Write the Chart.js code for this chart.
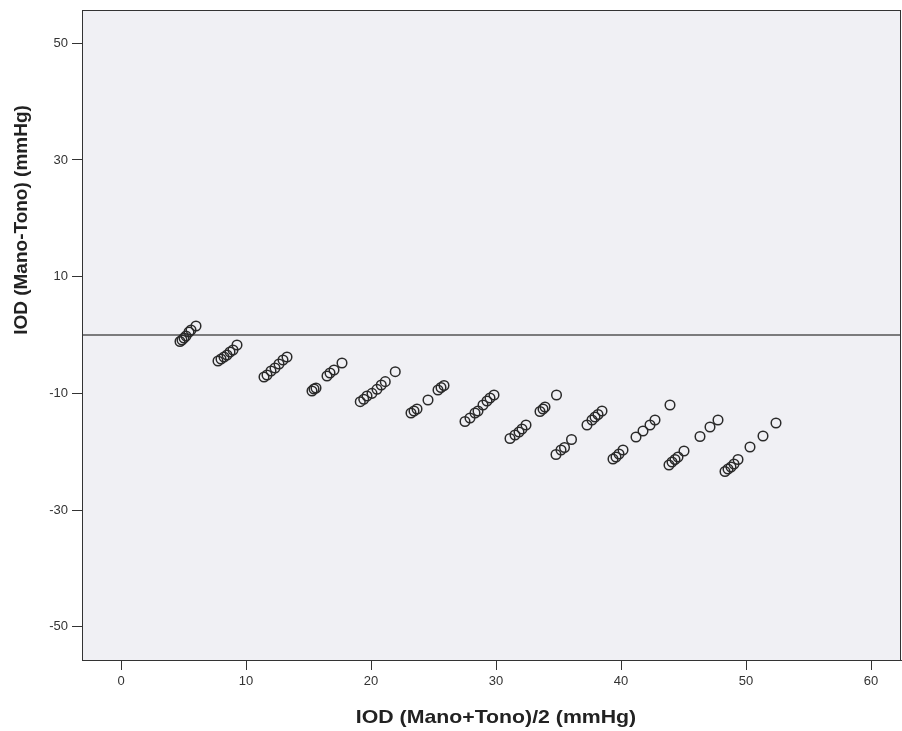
<!DOCTYPE html>
<html>
<head>
<meta charset="utf-8">
<script src="https://cdn.jsdelivr.net/npm/chart.js@4/dist/chart.umd.min.js"></script>
<style>
  html, body { margin: 0; padding: 0; background: #fff; }
  #wrap { width: 902px; height: 731px; }
</style>
</head>
<body>
<div id="wrap"><canvas id="plot" width="902" height="731"></canvas></div>
<script>
// mean of the two readings, grouped by streak (tono ~5, 10, 15 ... 60)
const xMean = [
  4.72, 4.88, 5.04, 5.2, 5.44, 5.6, 6.0,
  7.76, 8.0, 8.24, 8.48, 8.72, 8.96, 9.28,
  11.44, 11.68, 12.0, 12.32, 12.64, 12.96, 13.28,
  15.28, 15.44, 15.6, 16.48, 16.72, 17.04, 17.68,
  19.14, 19.42, 19.68, 20.08, 20.48, 20.82, 21.14, 21.94,
  23.2, 23.44, 23.68, 24.56, 25.36, 25.6, 25.84,
  27.52, 27.92, 28.32, 28.56, 28.96, 29.28, 29.52, 29.84,
  31.12, 31.52, 31.84, 32.08, 32.4, 33.52, 33.76, 33.92, 34.84,
  34.8, 35.2, 35.48, 36.04, 37.28, 37.68, 37.92, 38.16, 38.48,
  39.36, 39.6, 39.84, 40.16, 41.2, 41.76, 42.32, 42.72, 43.92,
  43.84, 44.08, 44.32, 44.56, 45.04, 46.32, 47.12, 47.76,
  48.32, 48.56, 48.8, 49.04, 49.36, 50.32, 51.36, 52.4
];
// difference mano - tono, same order
const yDiff = [
  -1.11, -0.86, -0.51, -0.17, 0.51, 0.86, 1.54,
  -4.46, -4.11, -3.77, -3.43, -2.91, -2.57, -1.71,
  -7.2, -6.86, -6.17, -5.66, -4.97, -4.29, -3.77,
  -9.6, -9.26, -9.09, -7.03, -6.51, -6.0, -4.8,
  -11.43, -11.02, -10.46, -10.0, -9.31, -8.57, -8.0, -6.29,
  -13.37, -13.03, -12.69, -11.14, -9.43, -9.0, -8.66,
  -14.83, -14.23, -13.37, -13.03, -12.0, -11.31, -10.8, -10.29,
  -17.74, -17.14, -16.63, -16.11, -15.43, -13.11, -12.69, -12.34, -10.29,
  -20.49, -19.71, -19.29, -17.91, -15.43, -14.57, -14.06, -13.63, -13.03,
  -21.26, -20.91, -20.4, -19.71, -17.49, -16.46, -15.43, -14.57, -12.0,
  -22.29, -21.77, -21.34, -20.91, -19.89, -17.4, -15.77, -14.57,
  -23.4, -22.97, -22.63, -22.11, -21.34, -19.2, -17.31, -15.09
];
const xTicks = [0, 10, 20, 30, 40, 50, 60];
const yTicks = [-50, -30, -10, 10, 30, 50];
const xRange = [-3.12, 62.4];
const yRange = [-55.71, 55.71];
const zeroLine = 0;
const xTitle = "IOD (Mano+Tono)/2 (mmHg)";
const yTitle = "IOD (Mano-Tono) (mmHg)";

let pts = xMean.map((v, i) => ({ x: v, y: yDiff[i] }));
let fam = '"Liberation Sans", Arial, sans-serif';

// grey plot area + frame, and the two axis titles
let frame = {
  id: "frame",
  beforeDatasetsDraw(chart) {
    let c = chart.ctx, a = chart.chartArea;
    c.save();
    c.fillStyle = "#f0f0f4";
    c.fillRect(a.left, a.top, a.right - a.left, a.bottom - a.top);
    c.restore();
  },
  afterDraw(chart) {
    let c = chart.ctx, a = chart.chartArea;
    c.save();
    c.strokeStyle = "#333";
    c.lineWidth = 1;
    c.strokeRect(a.left + 0.5, a.top + 0.5, a.right - a.left - 1, a.bottom - a.top);
    c.fillStyle = "#222";
    c.font = "bold 19px " + fam;
    c.textAlign = "center";
    c.textBaseline = "middle";
    // x title is drawn a bit wider, like the source image
    c.save();
    c.translate(chart.scales.x.getPixelForValue(30), 718);
    c.scale(1.12, 1);
    c.fillText(xTitle, 0, 0);
    c.restore();
    c.translate(22, 220);
    c.rotate(-Math.PI / 2);
    c.fillText(yTitle, 0, 0);
    c.restore();
  }
};

let axisStyle = {
  grid: { display: true, drawOnChartArea: false, drawTicks: true, tickLength: 10, color: "#333" },
  border: { display: true, color: "#333" },
  ticks: { font: { size: 13, family: fam }, color: "#333", padding: 4, autoSkip: false, maxRotation: 0 }
};

new Chart(document.getElementById("plot"), {
  type: "scatter",
  data: {
    datasets: [
      {
        data: pts,
        pointStyle: "circle",
        pointRadius: 4.8,
        pointBorderWidth: 1.5,
        pointBorderColor: "#2a2a2a",
        pointBackgroundColor: "rgba(0,0,0,0)"
      },
      {
        type: "line",
        data: [{ x: xRange[0], y: zeroLine }, { x: xRange[1], y: zeroLine }],
        borderColor: "#555",
        borderWidth: 1.5,
        pointRadius: 0
      }
    ]
  },
  options: {
    responsive: false,
    animation: false,
    layout: { autoPadding: false, padding: { top: 10, right: 1, left: 0, bottom: 0 } },
    plugins: { legend: { display: false }, tooltip: { enabled: false } },
    scales: {
      x: Object.assign({
        type: "linear", min: xRange[0], max: xRange[1],
        afterBuildTicks: s => { s.ticks = xTicks.map(v => ({ value: v })); },
        afterFit: s => { s.height = 71; s.paddingLeft = 0; s.paddingRight = 0; }
      }, axisStyle),
      y: Object.assign({
        type: "linear", min: yRange[0], max: yRange[1],
        afterBuildTicks: s => { s.ticks = yTicks.map(v => ({ value: v })); },
        afterFit: s => { s.width = 82; s.paddingTop = 0; s.paddingBottom = 0; }
      }, axisStyle)
    }
  },
  plugins: [frame]
});
</script>
</body>
</html>
